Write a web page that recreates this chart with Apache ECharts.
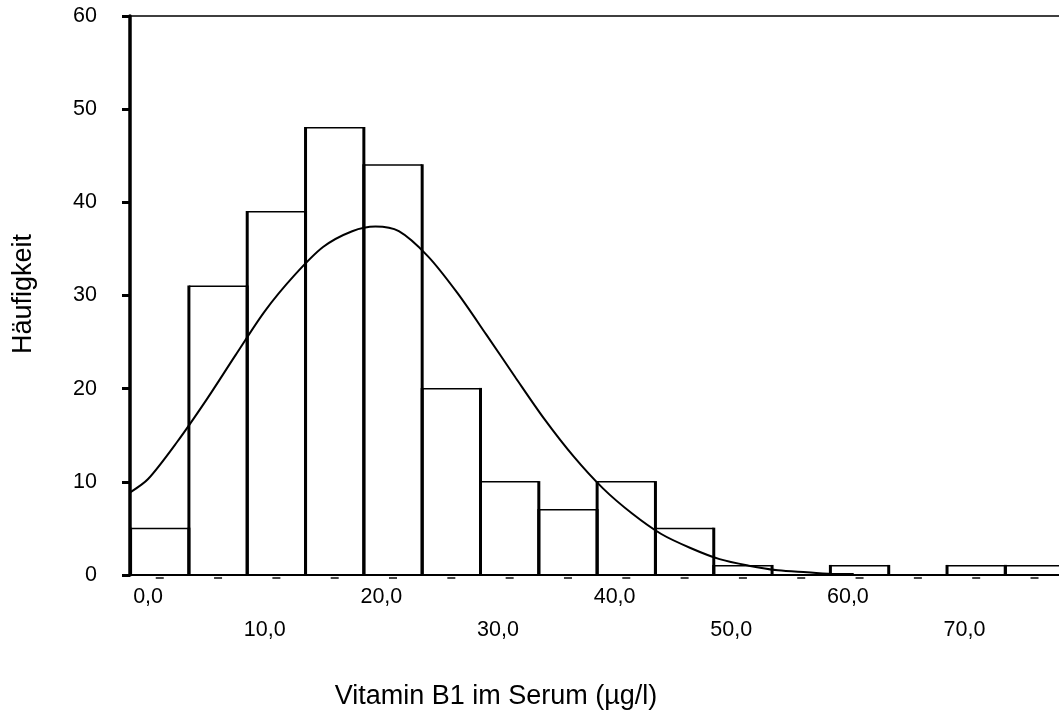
<!DOCTYPE html>
<html>
<head>
<meta charset="utf-8">
<script src="https://cdn.jsdelivr.net/npm/echarts@6/dist/echarts.min.js"></script>
<style>
html,body{margin:0;padding:0;background:#ffffff;}
#chart{width:1059px;height:717px;}
</style>
</head>
<body>
<div id="chart"></div>
<script>
// ---- data ----
const binStarts = [-1.5, 3.5, 8.5, 13.5, 18.5, 23.5, 28.5, 33.5, 38.5, 43.5, 48.5, 53.5, 58.5, 63.5, 68.5, 73.5];
const binEnds   = [3.5, 8.5, 13.5, 18.5, 23.5, 28.5, 33.5, 38.5, 43.5, 48.5, 53.5, 58.5, 63.5, 68.5, 73.5, 78.5];
const counts    = [5, 31, 39, 48, 44, 20, 10, 7, 10, 5, 1, 0, 1, 0, 1, 1];

// normal curve overlay
const curveX = [-1.5, 0, 2.5, 5, 7.5, 10, 12.5, 15, 17.5, 19.5, 21.5, 24, 26.5, 29, 31.5, 34, 36.5, 39, 41.5, 44, 46.5, 49, 51.5, 54, 56.5, 59, 60.5];
const curveY = [8.9, 10.3, 14.3, 18.8, 23.6, 28.3, 32.1, 35.2, 36.9, 37.4, 36.9, 34.2, 30.3, 25.8, 21.2, 16.7, 12.7, 9.3, 6.6, 4.4, 2.9, 1.7, 1.0, 0.5, 0.3, 0.1, 0.1];

const xLabelValuesRow1 = [0, 20, 40, 60];
const xLabelValuesRow2 = [10, 30, 50, 70];
const xLabelText = {0: '0,0', 10: '10,0', 20: '20,0', 30: '30,0', 40: '40,0', 50: '50,0', 60: '60,0', 70: '70,0'};
const yTickLabels = ['0', '10', '20', '30', '40', '50', '60'];

const xTitle = 'Vitamin B1 im Serum (µg/l)';
const yTitle = 'Häufigkeit';

// ---- chart ----
const FONT = '"Liberation Sans", Arial, Helvetica, sans-serif';
const TICK_FS = 21.5;
const TITLE_FS = 27;
const chart = echarts.init(document.getElementById('chart'), null, {renderer: 'canvas'});

const barData = binStarts.map((s, i) => [s, binEnds[i], counts[i]]);
const curveData = curveX.map((x, i) => [x, curveY[i]]);

const X_MIN = -1.55, X_MAX = 78.1;

function baseX(extra) {
  return Object.assign({
    type: 'value', min: X_MIN, max: X_MAX, gridIndex: 0,
    splitLine: {show: false}, axisTick: {show: false},
    axisLine: {show: false}
  }, extra);
}

const option = {
  backgroundColor: '#ffffff',
  animation: false,
  grid: {left: 130, right: 0, top: 16, bottom: 142, containLabel: false},
  xAxis: [
    baseX({
      position: 'bottom',
      axisLine: {show: true, onZero: false, lineStyle: {color: '#000', width: 2}},
      axisLabel: {
        show: true, margin: 11, customValues: xLabelValuesRow1,
        formatter: v => xLabelText[v], color: '#000', fontFamily: FONT, fontSize: TICK_FS
      }
    }),
    baseX({
      position: 'bottom',
      axisLabel: {
        show: true, margin: 44, customValues: xLabelValuesRow2,
        formatter: v => xLabelText[v], color: '#000', fontFamily: FONT, fontSize: TICK_FS
      }
    }),
    baseX({
      position: 'top',
      axisLine: {show: true, onZero: false, lineStyle: {color: '#000', width: 1.5}},
      axisLabel: {show: false}
    })
  ],
  yAxis: {
    type: 'value', min: 0, max: 60, interval: 10,
    axisLine: {show: true, onZero: false, lineStyle: {color: '#000', width: 3.5}},
    axisTick: {show: true, length: 8, lineStyle: {color: '#000', width: 3}},
    splitLine: {show: false},
    axisLabel: {
      margin: 33, color: '#000', fontFamily: FONT, fontSize: TICK_FS,
      formatter: (v) => yTickLabels[Math.round(v / 10)]
    }
  },
  graphic: [
    {type: 'text', x: 496, y: 697, style: {text: xTitle, fontFamily: FONT, fontSize: TITLE_FS, fill: '#000', align: 'center', verticalAlign: 'middle'}},
    {type: 'text', x: 24, y: 294, rotation: Math.PI / 2, style: {text: yTitle, fontFamily: FONT, fontSize: TITLE_FS, fill: '#000', align: 'center', verticalAlign: 'middle'}}
  ],
  series: [
    {
      type: 'custom', name: 'bars', xAxisIndex: 0, yAxisIndex: 0, clip: true, z: 2,
      data: barData,
      encode: {x: [0, 1], y: 2},
      renderItem: function (params, api) {
        const c = api.value(2);
        if (!(c > 0)) return {type: 'group', children: []};
        const p0 = api.coord([api.value(0), 0]);
        const p1 = api.coord([api.value(1), c]);
        return {
          type: 'group',
          children: [
            {type: 'line', shape: {x1: p0[0], y1: p1[1], x2: p1[0], y2: p1[1]}, style: {stroke: '#000', lineWidth: 1.5}},
            {type: 'line', shape: {x1: p0[0], y1: p0[1], x2: p0[0], y2: p1[1] - 0.75}, style: {stroke: '#000', lineWidth: 3}},
            {type: 'line', shape: {x1: p1[0], y1: p0[1], x2: p1[0], y2: p1[1] - 0.75}, style: {stroke: '#000', lineWidth: 3}}
          ]
        };
      }
    },
    {
      type: 'custom', name: 'binMarks', xAxisIndex: 0, yAxisIndex: 0, clip: false, z: 3,
      data: barData,
      encode: {x: [0, 1]},
      renderItem: function (params, api) {
        const p = api.coord([(api.value(0) + api.value(1)) / 2, 0]);
        return {type: 'rect', shape: {x: p[0] - 4, y: p[1] + 2, width: 8, height: 2}, style: {fill: '#444'}};
      }
    },
    {
      type: 'line', name: 'Normal', xAxisIndex: 0, yAxisIndex: 0, z: 4,
      data: curveData, smooth: 0.3, showSymbol: false, symbol: 'none',
      lineStyle: {color: '#000', width: 2}
    }
  ]
};
chart.setOption(option);
</script>
</body>
</html>
